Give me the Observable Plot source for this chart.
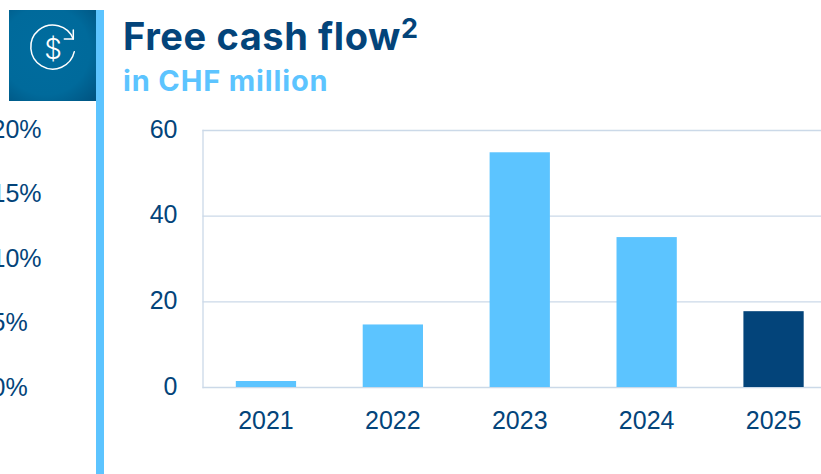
<!DOCTYPE html>
<html>
<head>
<meta charset="utf-8">
<script src="https://cdn.jsdelivr.net/npm/d3@7"></script>
<script src="https://cdn.jsdelivr.net/npm/@observablehq/plot@0.6"></script>
<style>
  html, body { margin: 0; padding: 0; background: #fff; overflow: hidden; }
  #page { position: relative; width: 821px; height: 474px; overflow: hidden; font-family: Inter, sans-serif; }
  #page > svg { position: absolute; left: 0; top: 0; }
  #rule { position: absolute; left: 96px; top: 10px; width: 8px; bottom: 0; background: #5cc4ff; }
  #tile { position: absolute; left: 9px; top: 10px; width: 87px; height: 91px;
          background: radial-gradient(ellipse at 42% 45%, #006c9e 0%, #006a9b 62%, #00527f 100%); }
  #tile svg { position: absolute; left: 0; top: 0; }
  #title { position: absolute; left: 123px; top: 14px; font-size: 38px; letter-spacing: 0.6px; font-weight: 700; color: #03447a; line-height: 44px; white-space: nowrap; }
  #title sup { font-size: 27px; line-height: 0; vertical-align: 12px; }
  #subtitle { position: absolute; left: 123px; top: 64px; font-size: 29px; letter-spacing: 0.85px; font-weight: 700; color: #5cc4ff; line-height: 34px; white-space: nowrap; }
</style>
</head>
<body>
<div id="page">
  <div id="rule"></div>
  <div id="tile">
    <svg width="87" height="91" viewBox="0 0 87 91" fill="none" stroke="#fff" stroke-width="1.5" stroke-linecap="round" stroke-linejoin="round">
      <path d="M 65.3 41.7 A 22 22 0 1 1 64.3 29"/>
      <path d="M 55.3 29 L 64.3 29 L 64.3 20"/>
      <text x="44" y="49" text-anchor="middle" fill="#fff" stroke="none" font-size="28" font-family="Inter, sans-serif" font-weight="300">$</text>
    </svg>
  </div>
  <div id="title">Free cash flow<sup>2</sup></div>
  <div id="subtitle">in CHF million</div>
</div>
<script>
  // Free cash flow per financial year, CHF million
  const years = ["2021", "2022", "2023", "2024", "2025"];
  const cashFlow = [1.4, 14.6, 54.8, 35, 17.7];
  const currentYear = "2025";
  const yTicks = [0, 20, 40, 60];
  // Axis of the neighbouring panel, which runs off the left edge
  const percentTicks = [0, 5, 10, 15, 20];

  const ink = "#03447a";
  const light = "#5cc4ff";
  const dark = "#03447a";
  const gridColor = "#cbd9e8";

  const rows = years.map((year, i) => ({year, value: cashFlow[i]}));

  const chart = Plot.plot({
    width: 821,
    height: 474,
    marginLeft: 202.5,
    marginRight: -16,
    marginTop: 130,
    marginBottom: 87,
    style: {background: "transparent", fontFamily: "Liberation Sans, sans-serif", fontSize: "25px", color: ink},
    x: {domain: years, paddingInner: 0.525, paddingOuter: 0.2625, round: false, label: null},
    y: {domain: [0, 60], label: null},
    marks: [
      Plot.gridY(yTicks, {stroke: gridColor, strokeOpacity: 1, strokeWidth: 1.3}),
      Plot.barY(rows, {
        x: "year",
        y: "value",
        fill: d => (d.year === currentYear ? dark : light)
      }),
      Plot.frame({anchor: "left", stroke: gridColor, strokeWidth: 1.3}),
      Plot.axisY(yTicks, {label: null, tickSize: 0, tickPadding: 25.5, dy: -1}),
      Plot.axisX(years, {label: null, tickSize: 0, tickPadding: 24, dx: -0.5})
    ]
  });

  const leftAxis = Plot.plot({
    width: 60,
    height: 474,
    marginLeft: 0,
    marginRight: 0,
    marginTop: 129,
    marginBottom: 87,
    style: {background: "transparent", fontFamily: "Liberation Sans, sans-serif", fontSize: "25px", color: ink},
    x: {axis: null},
    y: {domain: [0, 20], axis: null},
    marks: [
      Plot.text(percentTicks, {
        y: d => d,
        text: d => d + "%",
        frameAnchor: "left",
        textAnchor: "start",
        dx: -9
      })
    ]
  });

  const page = document.getElementById("page");
  page.prepend(leftAxis);
  page.prepend(chart);
</script>
</body>
</html>
